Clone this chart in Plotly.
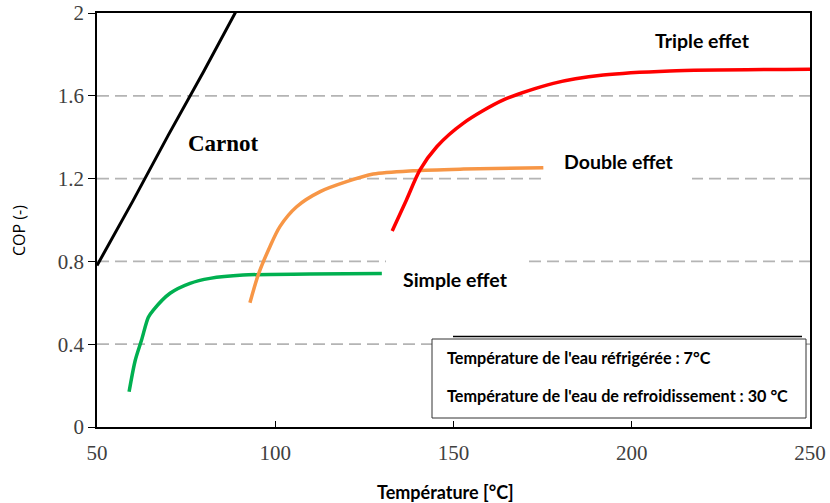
import plotly.graph_objects as go

# ---- data ----
carnot_T = [50, 60, 70, 80, 90]
carnot_cop = [0.78, 1.09, 1.41, 1.72, 2.04]

simple_T = [59.0, 60.7, 62.5, 64.4, 65.8, 70.5, 76.1, 81.7, 91.0, 109.7, 129.9]
simple_cop = [0.17, 0.32, 0.42, 0.53, 0.565, 0.646, 0.694, 0.718, 0.734, 0.739, 0.742]

double_T = [92.9, 95.2, 98.5, 101.3, 106.0, 112.6, 120.0, 127.5, 138.7, 152.8, 175.2]
double_cop = [0.60, 0.734, 0.871, 0.968, 1.064, 1.137, 1.185, 1.222, 1.238, 1.246, 1.253]

triple_T = [132.8, 136.8, 140.6, 145.3, 152.7, 164.0, 178.0, 192.0, 210.7, 250.0]
triple_cop = [0.947, 1.097, 1.242, 1.354, 1.467, 1.580, 1.660, 1.700, 1.720, 1.728]

x_ticks = [50, 100, 150, 200, 250]
y_ticks = [0, 0.4, 0.8, 1.2, 1.6, 2]
y_tick_text = ["0", "0.4", "0.8", "1.2", "1.6", "2"]
grid_levels = [0.4, 0.8, 1.2, 1.6]

X_RANGE = [50, 250]
Y_RANGE = [0, 2]
LABEL_FONT = "Lato"

W, H = 830, 503
L, R, T, B = 97, 20, 13, 76
pw, ph = W - L - R, H - T - B

def px2paper(x, y):
    return (x - L) / pw, 1 - (y - T) / ph

def px2data(x, y):
    a, b = px2paper(x, y)
    return X_RANGE[0] + a * (X_RANGE[1] - X_RANGE[0]), Y_RANGE[0] + b * (Y_RANGE[1] - Y_RANGE[0])

fig = go.Figure()

# dashed horizontal gridlines (drawn as traces so label boxes can mask them)
for g in grid_levels:
    fig.add_trace(go.Scatter(x=X_RANGE, y=[g, g], mode="lines",
                             line=dict(color="#B4B4B4", width=1.8, dash="12px,6px"),
                             showlegend=False, hoverinfo="skip"))

# white boxes behind the curve labels and the conditions box (interrupt gridlines)
white_boxes = [
    (386, 528, 252, 302),   # Simple effet (pixel coords)
    (546, 692, 148, 186),   # Double effet
    (640, 760, 26, 56),     # Triple effet
    (432, 806, 339, 418),   # conditions box
]
for x0, x1, y0, y1 in white_boxes:
    dx0, dy0 = px2data(x0, y1)
    dx1, dy1 = px2data(x1, y0)
    fig.add_trace(go.Scatter(x=[dx0, dx1, dx1, dx0, dx0], y=[dy0, dy0, dy1, dy1, dy0],
                             mode="lines", fill="toself", fillcolor="white",
                             line=dict(width=0, color="white"), showlegend=False, hoverinfo="skip"))

def add_curve(x, y, color, width, shape="spline"):
    fig.add_trace(go.Scatter(x=x, y=y, mode="lines",
                             line=dict(color=color, width=width, shape=shape, smoothing=0.8),
                             showlegend=False, hoverinfo="skip", cliponaxis=True))

add_curve(carnot_T, carnot_cop, "black", 3, shape="linear")
add_curve(simple_T, simple_cop, "#00B050", 3.5)
add_curve(double_T, double_cop, "#F79646", 3.5)
add_curve(triple_T, triple_cop, "#FF0000", 3.5)

# conditions box outline
bx0, by0 = px2paper(432, 418)
bx1, by1 = px2paper(806, 339)
fig.add_shape(type="rect", xref="paper", yref="paper", x0=bx0, x1=bx1, y0=by0, y1=by1,
              fillcolor="rgba(0,0,0,0)", line=dict(color="#333333", width=1))
lx0, ly = px2paper(453, 336.5)
lx1, _ = px2paper(802, 336.5)
fig.add_shape(type="line", xref="paper", yref="paper", x0=lx0, x1=lx1, y0=ly, y1=ly,
              line=dict(color="black", width=1.5))

def label(text, xpx, ypx, size, family=LABEL_FONT, anchor="left", color="black", angle=0):
    ax, ay = px2paper(xpx, ypx)
    fig.add_annotation(text=text, xref="paper", yref="paper", x=ax, y=ay,
                       xanchor=anchor, yanchor="middle", showarrow=False, textangle=angle,
                       font=dict(family=family, size=size, color=color))

label("<b>Carnot</b>", 186, 143, 23, family="Liberation Serif")
label("<b>Triple effet</b>", 653, 41, 19.5)
label("<b>Double effet</b>", 562, 161, 19.5)
label("<b>Simple effet</b>", 401, 279, 19.5)
label("<b>Température de l'eau réfrigérée : 7°C</b>", 445, 357, 16.2)
label("<b>Température de l'eau de refroidissement : 30 °C</b>", 445, 395, 16.2)

# axis titles
label("<b>Température [°C]</b>", 445, 492, 18, anchor="center")
label("COP (-)", 19, 231, 16, family="Open Sans", anchor="center", angle=-90)

fig.update_layout(
    width=W, height=H,
    margin=dict(l=L, r=R, t=T, b=B),
    paper_bgcolor="white", plot_bgcolor="white",
    showlegend=False,
)
fig.update_xaxes(
    range=X_RANGE, tickvals=x_ticks, ticks="inside", ticklen=6, tickcolor="black",
    showline=True, linecolor="black", linewidth=1.5, mirror=True,
    showgrid=False, zeroline=False, automargin=False, ticklabelstandoff=6,
    tickfont=dict(family="Liberation Serif", size=21, color="#404040"),
)
fig.update_yaxes(
    range=Y_RANGE, tickvals=y_ticks, ticktext=y_tick_text, ticks="outside", ticklen=7, tickcolor="black",
    showline=True, linecolor="black", linewidth=1.5, mirror=True,
    showgrid=False, zeroline=False, automargin=False,
    tickfont=dict(family="Liberation Serif", size=21, color="#404040"),
)

fig.write_html("out.html")
